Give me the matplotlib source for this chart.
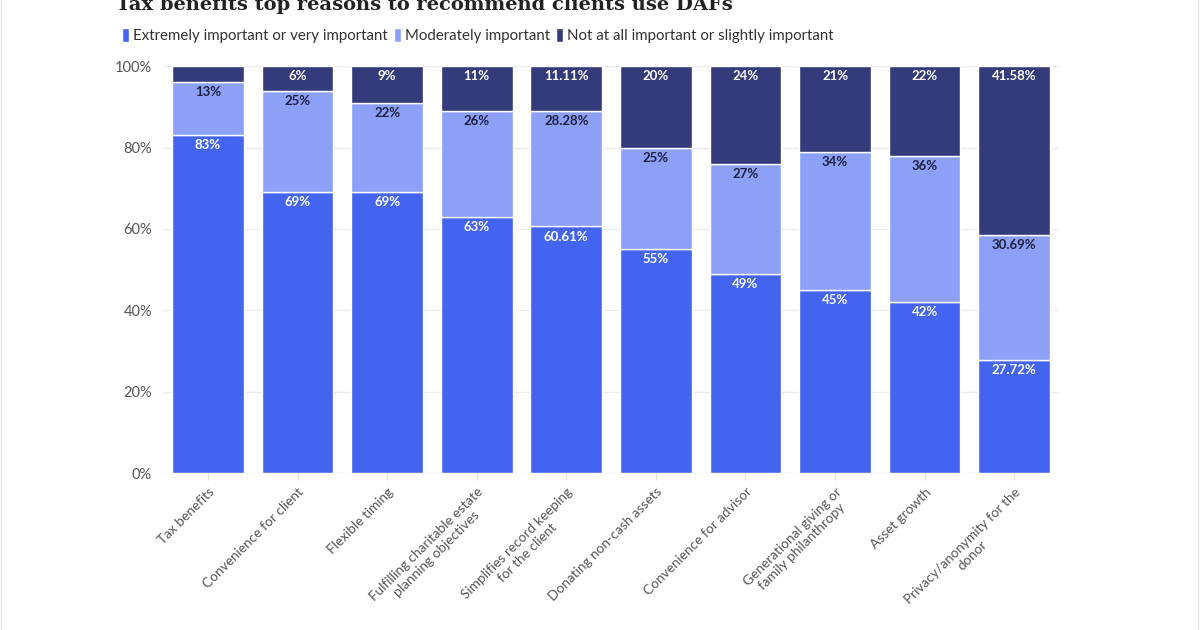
import matplotlib.pyplot as plt
import numpy as np

categories = ['Tax benefits', 'Convenience for client', 'Flexible timing',
              'Fulfilling charitable estate\nplanning objectives',
              'Simplifies record keeping\nfor the client', 'Donating non-cash assets',
              'Convenience for advisor', 'Generational giving or\nfamily philanthropy',
              'Asset growth', 'Privacy/anonymity for the\ndonor']
extreme = [83, 69, 69, 63, 60.61, 55, 49, 45, 42, 27.72]
moderate = [13, 25, 22, 26, 28.28, 25, 27, 34, 36, 30.69]
not_imp = [4, 6, 9, 11, 11.11, 20, 24, 21, 22, 41.58]
series_names = ['Extremely important or very important', 'Moderately important',
                'Not at all important or slightly important']
colors = ['#4264EE', '#8CA0F7', '#343B7A']
label_colors = ['white', '#1e2140', 'white']

plt.rcParams['font.family'] = ['Lato', 'DejaVu Sans']

fig = plt.figure(figsize=(12, 6.3), dpi=100)
ax = fig.add_axes([0.136, 0.249, 0.7465, 0.646])

x = np.arange(len(categories))
bottom = np.zeros(len(categories))
for vals, col, lcol, name in zip([extreme, moderate, not_imp], colors, label_colors, series_names):
    vals = np.array(vals)
    ax.bar(x, vals, 0.8, bottom=bottom, color=col, edgecolor='white', linewidth=1, label=name, zorder=2)
    for xi, b, v in zip(x, bottom, vals):
        if v < 5:
            continue
        ax.text(xi, b + v - 1.0, f'{v:g}%', ha='center', va='top', fontsize=9.5,
                fontweight='bold', color=lcol, zorder=3)
    bottom += vals

ax.set_xlim(-0.5, len(categories) - 0.5)
ax.set_ylim(0, 100)
ax.set_yticks([0, 20, 40, 60, 80, 100])
ax.set_yticklabels([f'{t}%' for t in [0, 20, 40, 60, 80, 100]])
ax.grid(axis='y', color='#ececec', linewidth=1, zorder=0)
for s in ax.spines.values():
    s.set_visible(False)
ax.tick_params(axis='y', length=0, pad=8, labelsize=10.5, labelcolor='#555555')
ax.tick_params(axis='x', length=5, color='#dddddd', pad=4, labelsize=9.8, labelcolor='#555555')
ax.set_xticks(x)
ax.set_xticklabels(categories, rotation=45, ha='right', rotation_mode='anchor',
                   multialignment='center')

fig.text(0.097, 0.984, 'Tax benefits top reasons to recommend clients use DAFs',
         family=['DejaVu Serif'], fontweight='bold', fontsize=14, color='#222222', va='baseline')

fig.legend(loc='center left', bbox_to_anchor=(0.09, 0.943), ncol=3, frameon=False,
           handlelength=0.5, handleheight=1.0, handletextpad=0.25, columnspacing=0.4,
           fontsize=10.8, labelcolor='#333333')

# faint frame at the image sides
fig.add_artist(plt.Line2D([0.001, 0.001], [0, 1], color='#e6e6e6', linewidth=1))
fig.add_artist(plt.Line2D([0.998, 0.998], [0, 1], color='#e6e6e6', linewidth=1))

fig.savefig('out.png', dpi=100)
